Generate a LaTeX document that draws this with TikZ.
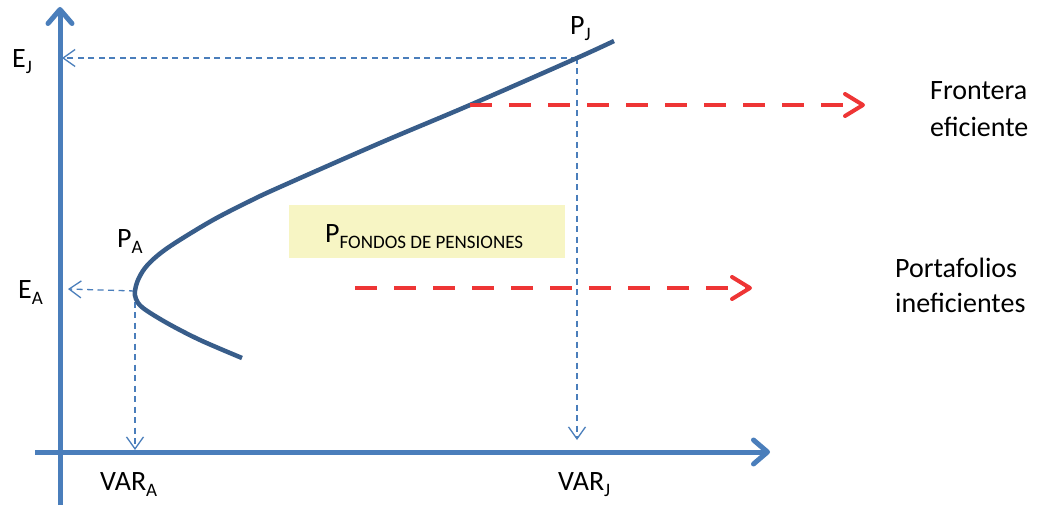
\documentclass[tikz,border=0pt]{standalone}
\usepackage{fontspec}
\setmainfont{Carlito}
\usetikzlibrary{arrows.meta}
\definecolor{axisblue}{HTML}{4A7EBB}
\definecolor{curveblue}{HTML}{385D8A}
\definecolor{dashred}{HTML}{EE3535}
\definecolor{boxyellow}{HTML}{F7F5C4}
\newcommand{\lowsub}[1]{\raisebox{-6pt}{\fontsize{19}{19}\selectfont #1}}
\begin{document}
\begin{tikzpicture}[x=1pt,y=-1pt,
 axis/.style={axisblue, line width=5pt, -{Straight Barb[length=14pt,width=24pt,round]}},
 guide/.style={axisblue, line width=1.3pt, dash pattern=on 6pt off 4.5pt, -{Straight Barb[length=12pt,width=17pt]}},
 redarrow/.style={dashred, line width=4pt, dash pattern=on 22pt off 17pt, -{Straight Barb[length=18pt,width=22pt,round]}},
 lbl/.style={inner sep=0pt, anchor=base west, font=\fontsize{28}{36}\selectfont},
]
\useasboundingbox (0,0) rectangle (1039,508);
% coordinates
\coordinate (ybot) at (60,505);
\coordinate (ytop) at (60,7);
\coordinate (xleft) at (35,452);
\coordinate (xright) at (770,452);
\coordinate (PJ) at (577,58);
\coordinate (EJax) at (62,58);
\coordinate (VJax) at (577,440);
\coordinate (PA) at (135,291);
\coordinate (EAax) at (68,289);
\coordinate (VAax) at (135,450);
\coordinate (r1s) at (470,105);
\coordinate (r1e) at (865,105);
\coordinate (r2s) at (355,288);
\coordinate (r2e) at (752,288);
% box
\node[fill=boxyellow, minimum width=276pt, minimum height=53pt, inner sep=0pt] (box) at (427,231.5) {};
% axes
\draw[axis] (ybot) -- (ytop);
\draw[axis] (xleft) -- (xright);
% guides
\draw[guide] (PJ) -- (EJax);
\draw[guide] (PJ) -- (VJax);
\draw[guide] (PA) -- (EAax);
\draw[guide] (PA) -- (VAax);
% curve
\draw[curveblue, line width=4.5pt, line cap=butt] plot[smooth, tension=0.55] coordinates {
 (242,358) (200,340) (167,323) (143,308) (136,299) (135,291) (138,280) (145,268) (157,256) (175,243) (213,220) (250,201) (280,187) (380,143) (470,105) (577,58) (614,41)};
% red arrows
\draw[redarrow] (r1s) -- (r1e);
\draw[redarrow] (r2s) -- (r2e);
% labels
\node[lbl] (EJ) at (12,68) {E\lowsub{J}};
\node[lbl] (PJl) at (570,35) {P\lowsub{J}};
\node[lbl] (PAl) at (117,247) {P\lowsub{A}};
\node[lbl] (EA) at (18,298) {E\lowsub{A}};
\node[lbl] (VARA) at (100,490) {VAR\lowsub{A}};
\node[lbl] (VARJ) at (558,490) {VAR\lowsub{J}};
\node[lbl] (PF) at (325,242) {P\lowsub{FONDOS DE PENSIONES}};
\node[lbl] (fr1) at (930,100) {Frontera};
\node[lbl] (fr2) at (930,137) {eficiente};
\node[lbl] (pt1) at (895,277) {Portafolios};
\node[lbl] (pt2) at (895,312) {ineficientes};
\end{tikzpicture}
\end{document}
